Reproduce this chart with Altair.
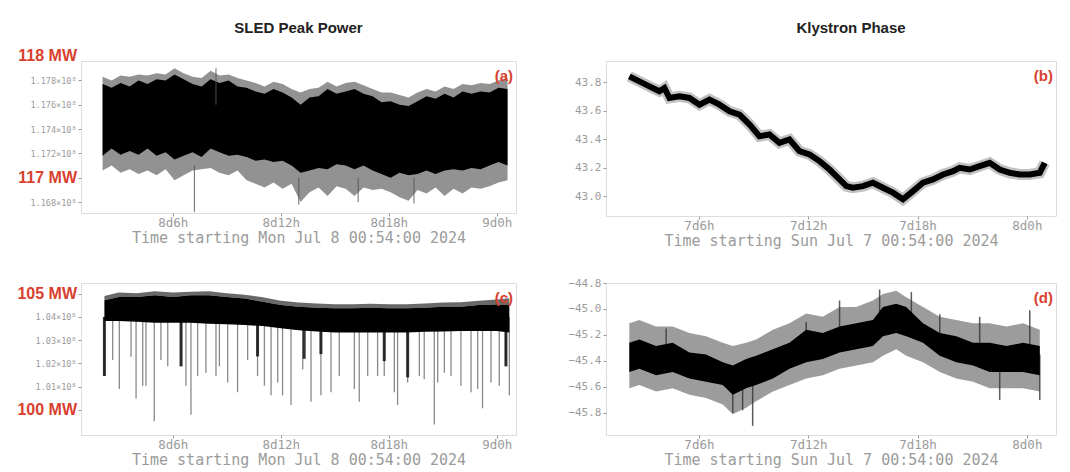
import altair as alt
import pandas as pd

RED = "#d9402e"
GRAY = "#9b9b9b"
MONO = "DejaVu Sans Mono"
SANS = "Liberation Sans"

# ---------------- Panel (a): SLED peak power [MW], hours since Jul 8 00:00
a_t = [2.1, 2.6, 3.1, 3.6, 4.1, 4.6, 5.1, 5.6, 6.1, 6.6, 7.1, 7.6, 8.1, 8.6, 9.1, 9.6,
       10.1, 10.6, 11.1, 11.6, 12.1, 12.6, 13.1, 13.6, 14.1, 14.6, 15.1, 15.6, 16.1, 16.6,
       17.1, 17.6, 18.1, 18.6, 19.1, 19.6, 20.1, 20.6, 21.1, 21.6, 22.1, 22.6, 23.1, 23.6, 24.1, 24.6]
a_core_hi = [117.77, 117.74, 117.78, 117.75, 117.80, 117.77, 117.81, 117.80, 117.85, 117.81,
             117.77, 117.75, 117.81, 117.78, 117.80, 117.75, 117.74, 117.71, 117.69, 117.73,
             117.70, 117.66, 117.60, 117.66, 117.67, 117.73, 117.69, 117.71, 117.73, 117.69,
             117.67, 117.62, 117.63, 117.60, 117.59, 117.63, 117.67, 117.65, 117.69, 117.66,
             117.71, 117.69, 117.71, 117.70, 117.74, 117.73]
a_core_lo = [117.18, 117.24, 117.19, 117.22, 117.19, 117.24, 117.18, 117.21, 117.15, 117.18,
             117.21, 117.17, 117.24, 117.21, 117.18, 117.19, 117.17, 117.14, 117.15, 117.13,
             117.14, 117.10, 117.04, 117.06, 117.08, 117.07, 117.11, 117.10, 117.07, 117.10,
             117.06, 117.03, 117.00, 117.04, 117.02, 117.03, 117.06, 117.03, 117.06, 117.07,
             117.06, 117.08, 117.07, 117.10, 117.13, 117.10]
a_out_hi = [117.83, 117.80, 117.84, 117.83, 117.85, 117.84, 117.86, 117.85, 117.90, 117.86,
            117.83, 117.82, 117.88, 117.84, 117.85, 117.82, 117.80, 117.78, 117.75, 117.79,
            117.77, 117.73, 117.70, 117.73, 117.74, 117.79, 117.75, 117.78, 117.79, 117.76,
            117.73, 117.70, 117.70, 117.68, 117.66, 117.70, 117.73, 117.71, 117.75, 117.73,
            117.77, 117.76, 117.78, 117.77, 117.80, 117.82]
a_out_lo = [117.06, 117.10, 117.04, 117.07, 117.03, 117.06, 117.02, 117.07, 116.98, 117.02,
            117.06, 117.07, 117.08, 117.04, 117.02, 117.06, 116.98, 116.95, 116.92, 116.96,
            116.91, 116.95, 116.80, 116.88, 116.92, 116.85, 116.93, 116.91, 116.85, 116.92,
            116.90, 116.91, 116.88, 116.84, 116.81, 116.90, 116.87, 116.92, 116.85, 116.91,
            116.87, 116.92, 116.91, 116.93, 116.96, 116.98]
a_spk_t = [7.2, 8.4, 13.0, 16.3, 19.4]
a_spk_hi = [117.10, 117.90, 117.00, 117.00, 117.00]
a_spk_lo = [116.72, 117.60, 116.78, 116.80, 116.79]
a_mw_v = [118.0, 117.0]
a_mw_lab = ["118 MW", "117 MW"]

# ---------------- Panel (b): Klystron phase, hours since Jul 7 00:00
b_t = [2.18, 2.73, 3.28, 3.83, 4.11, 4.38, 4.93, 5.48, 6.03, 6.58, 7.13, 7.68, 8.23, 8.78,
       9.32, 9.87, 10.42, 10.97, 11.52, 12.07, 12.62, 13.17, 13.72, 14.09, 14.45, 15.00,
       15.55, 16.10, 16.65, 17.20, 17.75, 18.30, 18.85, 19.40, 19.95, 20.31, 20.86, 21.41,
       21.96, 22.51, 23.06, 23.61, 24.16, 24.71, 24.98]
b_v = [43.842, 43.807, 43.772, 43.737, 43.760, 43.690, 43.702, 43.690, 43.643, 43.679,
       43.643, 43.596, 43.573, 43.503, 43.421, 43.433, 43.375, 43.398, 43.316, 43.293,
       43.246, 43.187, 43.117, 43.070, 43.059, 43.070, 43.094, 43.059, 43.024, 42.977,
       43.035, 43.094, 43.117, 43.152, 43.175, 43.199, 43.187, 43.211, 43.234, 43.187,
       43.164, 43.152, 43.152, 43.164, 43.234]

# ---------------- Panel (c): SLED peak power [MW], hours since Jul 8 00:00
c_t = [2.2, 3.0, 4.0, 5.0, 6.0, 7.0, 8.0, 9.0, 10.0, 11.0, 12.0, 13.0, 14.0, 15.0, 16.0,
       17.0, 18.0, 19.0, 20.0, 21.0, 22.0, 23.0, 24.0, 24.7]
c_core_hi = [104.72, 104.86, 104.86, 104.93, 104.86, 104.93, 104.93, 104.86, 104.79, 104.65,
             104.51, 104.44, 104.40, 104.375, 104.375, 104.40, 104.375, 104.375, 104.40, 104.44,
             104.44, 104.51, 104.54, 104.51]
c_core_lo = [103.82, 103.82, 103.79, 103.75, 103.75, 103.75, 103.71, 103.68, 103.65, 103.61,
             103.51, 103.43, 103.375, 103.33, 103.33, 103.33, 103.33, 103.33, 103.36, 103.375,
             103.40, 103.40, 103.40, 103.33]
c_out_hi = [104.90, 105.05, 105.02, 105.10, 105.05, 105.08, 105.10, 105.02, 104.95, 104.85,
            104.70, 104.62, 104.58, 104.55, 104.55, 104.57, 104.55, 104.55, 104.58, 104.62,
            104.63, 104.70, 104.75, 104.80]
c_spk_t = [2.20, 2.66, 3.03, 3.68, 3.96, 4.33, 4.51, 4.97, 5.34, 5.72, 6.46, 6.73, 7.01, 7.38,
           7.84, 8.40, 8.59, 9.05, 9.60, 10.16, 10.71, 11.09, 11.46, 11.83, 12.10, 12.57, 13.22,
           13.68, 14.23, 14.79, 15.25, 16.09, 16.36, 16.83, 17.38, 17.75, 18.31, 18.49, 19.05,
           19.70, 19.97, 20.53, 20.72, 21.09, 21.46, 22.01, 22.57, 22.94, 23.21, 23.68, 24.14,
           24.51, 24.70]
c_spk_lo = [101.46, 102.15, 100.90, 102.29, 100.49, 101.04, 101.04, 99.51, 102.15, 101.875,
            101.875, 101.04, 99.79, 101.46, 101.60, 101.46, 101.875, 101.18, 100.76, 102.15,
            101.46, 101.04, 100.625, 101.18, 100.625, 100.21, 101.74, 100.35, 100.625, 100.76,
            101.46, 100.90, 100.35, 101.46, 101.46, 101.46, 100.76, 100.21, 101.18, 101.46,
            101.32, 99.375, 101.18, 101.60, 101.46, 101.04, 100.76, 100.90, 100.07, 101.18,
            101.04, 101.875, 100.625]
c_dark_t = [2.20, 6.46, 10.71, 13.30, 14.23, 17.75, 19.05, 24.51]
c_dark_lo = [101.46, 101.875, 102.30, 102.20, 102.40, 102.10, 101.40, 101.875]
c_mw_v = [105.0, 100.0]
c_mw_lab = ["105 MW", "100 MW"]

# ---------------- Panel (d): Klystron phase, hours since Jul 7 00:00
d_t = [2.18, 2.73, 3.65, 4.56, 5.48, 6.39, 7.31, 7.86, 8.59, 9.14, 10.06, 10.97, 11.89, 12.80,
       13.72, 14.64, 15.55, 16.10, 16.83, 17.38, 18.30, 19.22, 20.13, 21.05, 21.96, 22.88,
       23.79, 24.71]
d_core_hi = [-45.26, -45.235, -45.285, -45.26, -45.335, -45.35, -45.41, -45.435, -45.385, -45.36,
             -45.31, -45.26, -45.16, -45.185, -45.135, -45.11, -45.085, -44.985, -44.96, -44.985,
             -45.11, -45.185, -45.21, -45.26, -45.26, -45.285, -45.26, -45.285]
d_core_lo = [-45.485, -45.46, -45.51, -45.485, -45.535, -45.56, -45.585, -45.66, -45.61, -45.585,
             -45.535, -45.46, -45.41, -45.385, -45.335, -45.31, -45.285, -45.21, -45.185, -45.21,
             -45.26, -45.36, -45.41, -45.435, -45.485, -45.485, -45.485, -45.51]
d_out_hi = [-45.11, -45.085, -45.135, -45.135, -45.185, -45.21, -45.26, -45.285, -45.26, -45.235,
            -45.16, -45.11, -45.035, -45.06, -44.985, -44.985, -44.935, -44.885, -44.86, -44.91,
            -44.985, -45.06, -45.085, -45.11, -45.11, -45.135, -45.11, -45.16]
d_out_lo = [-45.61, -45.585, -45.635, -45.61, -45.66, -45.685, -45.735, -45.81, -45.76, -45.71,
            -45.635, -45.585, -45.535, -45.51, -45.46, -45.435, -45.41, -45.36, -45.31, -45.36,
            -45.41, -45.485, -45.535, -45.56, -45.61, -45.61, -45.61, -45.635]
d_spk_t = [4.20, 11.89, 13.72, 15.92, 17.66, 19.22, 21.41, 24.16, 7.86, 8.40, 8.95, 22.51, 24.71]
d_spk_hi = [-45.15, -45.10, -44.935, -44.85, -44.87, -45.04, -45.06, -45.01, -45.50, -45.50,
            -45.45, -45.35, -45.35]
d_spk_lo = [-45.35, -45.30, -45.20, -45.10, -45.10, -45.25, -45.30, -45.45, -45.80, -45.78,
            -45.90, -45.70, -45.70]


def xaxis(expr, title):
    return alt.Axis(values=[6, 12, 18, 24], labelExpr=expr, title=title, grid=False, domain=False,
                    labelFont=MONO, labelFontSize=12.5, labelColor=GRAY, labelPadding=0,
                    labelOverlap=False,
                    titleFont=MONO, titleFontSize=15, titleFontWeight="normal", titleColor=GRAY,
                    titlePadding=2, tickColor=GRAY, tickSize=3)


def yaxis(vals, expr, fs):
    return alt.Axis(values=vals, labelExpr=expr, title=None, grid=False, domain=False,
                    labelFont=MONO, labelFontSize=fs, labelColor=GRAY, tickColor=GRAY,
                    tickSize=3, labelPadding=2, labelOverlap=False, labelFlush=False)


class Panel:
    def __init__(self, xs, ys, xa, ya):
        self.xs, self.ys, self.xa, self.ya = xs, ys, xa, ya

    def X(self):
        return alt.X("t:Q", scale=self.xs, axis=self.xa)

    def Y(self):
        return alt.Y("lo:Q", scale=self.ys, axis=self.ya)

    def bands(self, t, lo, hi, color, opacity):
        df = pd.DataFrame({"t": t, "lo": lo, "hi": hi})
        return alt.Chart(df).mark_area(color=color, opacity=opacity, clip=True).encode(
            x=self.X(), y=self.Y(), y2="hi:Q")

    def rules(self, t, lo, hi, color, opacity, sw):
        df = pd.DataFrame({"t": t, "lo": lo, "hi": hi})
        return alt.Chart(df).mark_rule(color=color, opacity=opacity, strokeWidth=sw, clip=True).encode(
            x=self.X(), y=self.Y(), y2="hi:Q")

    def line(self, t, v, color, opacity, sw):
        df = pd.DataFrame({"t": t, "lo": v})
        return alt.Chart(df).mark_line(color=color, opacity=opacity, strokeWidth=sw, clip=True).encode(
            x=self.X(), y=self.Y())

    def mw_text(self, vals, labs):
        df = pd.DataFrame({"lo": vals, "lab": labs})
        return alt.Chart(df).mark_text(align="right", baseline="middle", font=SANS, fontSize=16,
                                       fontWeight="bold", color=RED).encode(
            x=alt.value(-4), y=self.Y(), text="lab:N")


def tag(label, width):
    df = pd.DataFrame({"lab": [label]})
    return alt.Chart(df).mark_text(align="right", baseline="middle", font=SANS, fontSize=15,
                                   fontWeight="bold", color=RED).encode(
        x=alt.value(width - 3), y=alt.value(15), text="lab:N")


LW, RW = 435, 450

left_x = alt.Scale(domain=[0.9, 25.07], nice=False, zero=False)
right_x = alt.Scale(domain=[0.9, 25.6], nice=False, zero=False)
left_expr = "datum.value < 24 ? '8d' + datum.value + 'h' : '9d0h'"
right_expr = "datum.value < 24 ? '7d' + datum.value + 'h' : '8d0h'"
left_title = "Time starting Mon Jul  8 00:54:00 2024"
right_title = "Time starting Sun Jul  7 00:54:00 2024"
xa_left = xaxis(left_expr, left_title)
xa_right = xaxis(right_expr, right_title)

title_style = dict(font=SANS, fontSize=15, fontWeight="bold", color="#222222", frame="group")

# (a)
A = Panel(left_x, alt.Scale(domain=[116.71, 117.96], nice=False, zero=False), xa_left,
          yaxis([116.8, 117.0, 117.2, 117.4, 117.6, 117.8],
                "datum.value == 117 ? '' : format(datum.value / 100, '.3f') + '×10⁸'", 8.5))
pa = alt.layer(
    A.bands(a_t, a_out_lo, a_out_hi, "#6e6e6e", 0.75),
    A.bands(a_t, a_core_lo, a_core_hi, "#000000", 1.0),
    A.rules(a_spk_t, a_spk_lo, a_spk_hi, "#555555", 0.9, 1),
    A.mw_text(a_mw_v, a_mw_lab),
    tag("(a)", LW),
).properties(width=LW, height=152,
             title=alt.TitleParams("SLED Peak Power", offset=12, **title_style))

# (b)
B = Panel(right_x, alt.Scale(domain=[42.86, 43.95], nice=False, zero=False), xa_right,
          yaxis([43.0, 43.2, 43.4, 43.6, 43.8], "format(datum.value, '.1f')", 11))
pb = alt.layer(
    B.line(b_t, b_v, "#777777", 0.45, 11),
    B.line(b_t, b_v, "#000000", 1.0, 6),
    tag("(b)", RW),
).properties(width=RW, height=155,
             title=alt.TitleParams("Klystron Phase", dx=20, offset=25, **title_style))

# (c)
C = Panel(left_x, alt.Scale(domain=[98.92, 105.46], nice=False, zero=False), xa_left,
          yaxis([100, 101, 102, 103, 104, 105],
                "datum.value == 100 || datum.value == 105 ? '' : format(datum.value / 100, '.2f') + '×10⁸'",
                8.5))
pc = alt.layer(
    C.bands(c_t, c_core_hi, c_out_hi, "#444444", 0.8),
    C.rules(c_spk_t, c_spk_lo, [104.0] * len(c_spk_t), "#3a3a3a", 0.6, 1.3),
    C.rules(c_dark_t, c_dark_lo, [104.0] * len(c_dark_t), "#111111", 0.85, 3),
    C.bands(c_t, c_core_lo, c_core_hi, "#000000", 1.0),
    C.mw_text(c_mw_v, c_mw_lab),
    tag("(c)", LW),
).properties(width=LW, height=152)

# (d)
D = Panel(right_x, alt.Scale(domain=[-45.97, -44.8], nice=False, zero=False), xa_right,
          yaxis([-45.8, -45.6, -45.4, -45.2, -45.0, -44.8], "format(datum.value, '.1f')", 11))
pd_ = alt.layer(
    D.bands(d_t, d_out_lo, d_out_hi, "#5a5a5a", 0.6),
    D.rules(d_spk_t, d_spk_lo, d_spk_hi, "#333333", 0.8, 1.5),
    D.bands(d_t, d_core_lo, d_core_hi, "#000000", 1.0),
    tag("(d)", RW),
).properties(width=RW, height=152)

chart = alt.concat(pa, pb, pc, pd_, columns=2, spacing={"row": 27, "column": 50}).resolve_scale(
    x="independent", y="independent"
).properties(
    padding={"left": 8, "top": 12, "right": 0, "bottom": 0}
).configure_view(stroke=GRAY, strokeWidth=1).configure_axis(
    labelOverlap=False
).configure(background="white")

chart.save("out.html", embed_options={"renderer": "svg", "actions": False})
